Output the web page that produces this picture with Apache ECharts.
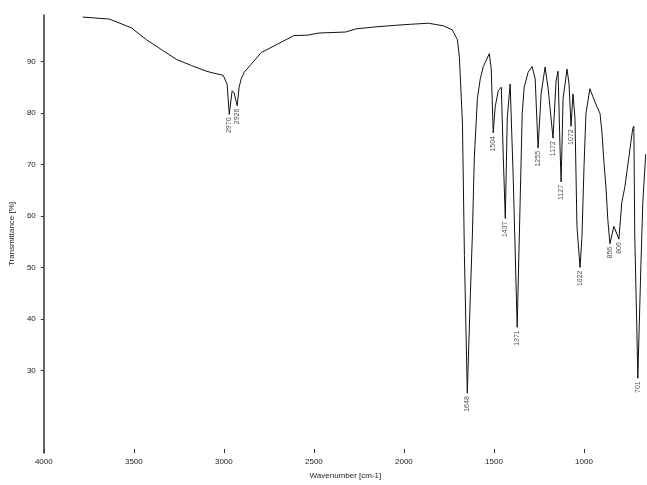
<!DOCTYPE html>
<html>
<head>
<meta charset="utf-8">
<script src="https://cdn.jsdelivr.net/npm/echarts@6/dist/echarts.min.js"></script>
<style>
  html, body { margin: 0; padding: 0; background: #fff; }
  #chart { width: 647px; height: 485px; }
</style>
</head>
<body>
<div id="chart"></div>
<script>
// wavenumber [cm-1] and transmittance [%]
const wavenumber = [3784, 3635, 3513, 3430, 3347, 3264, 3181, 3098, 3054, 3004, 2982, 2970, 2954, 2943, 2926, 2915, 2904, 2887, 2849, 2793, 2710, 2611, 2533, 2472, 2323, 2268, 2157, 2046, 1963, 1864, 1780, 1731, 1703, 1692, 1675, 1664, 1648, 1631, 1620, 1609, 1592, 1576, 1559, 1526, 1515, 1504, 1493, 1476, 1459, 1448, 1437, 1426, 1410, 1393, 1371, 1354, 1343, 1332, 1310, 1288, 1271, 1255, 1238, 1216, 1199, 1172, 1155, 1144, 1133, 1127, 1116, 1094, 1083, 1072, 1061, 1050, 1039, 1022, 1011, 1000, 989, 967, 950, 928, 911, 900, 889, 878, 867, 856, 834, 806, 790, 773, 762, 751, 740, 729, 723, 718, 707, 701, 684, 673, 657];
const transmittance = [98.6, 98.2, 96.5, 94.2, 92.3, 90.4, 89.2, 88.1, 87.7, 87.3, 85.6, 79.7, 84.3, 83.9, 81.4, 85.0, 86.6, 87.9, 89.4, 91.7, 93.2, 95.0, 95.1, 95.5, 95.7, 96.3, 96.7, 97.0, 97.2, 97.4, 96.9, 96.1, 94.2, 90.8, 78.0, 52.3, 25.6, 44.7, 56.1, 71.3, 82.8, 86.6, 89.0, 91.5, 88.5, 76.1, 81.2, 84.3, 85.0, 71.3, 59.5, 79.0, 85.6, 67.5, 38.4, 63.7, 79.9, 85.0, 87.9, 89.0, 86.6, 73.2, 83.7, 88.9, 84.7, 75.1, 86.2, 88.1, 73.2, 66.6, 82.8, 88.5, 85.6, 77.4, 83.7, 79.0, 58.0, 50.0, 56.1, 69.4, 79.9, 84.7, 83.1, 81.2, 79.9, 76.1, 70.4, 65.6, 59.0, 54.6, 58.0, 55.5, 62.6, 65.6, 68.5, 71.3, 74.2, 77.0, 77.4, 56.1, 39.0, 28.5, 50.4, 62.8, 72.0];

// labelled peaks
const peakWn = [2970, 2926, 1648, 1504, 1437, 1371, 1255, 1172, 1127, 1072, 1022, 856, 806, 701];
const peakT = [79.7, 81.4, 25.6, 76.1, 59.5, 38.4, 73.2, 75.1, 66.6, 77.4, 50.0, 54.6, 55.5, 28.5];

const xTicks = [4000, 3500, 3000, 2500, 2000, 1500, 1000];
const yTicks = [30, 40, 50, 60, 70, 80, 90];

const font = 'Liberation Sans';
const txt = '#222';

const chart = echarts.init(document.getElementById('chart'));
chart.setOption({
  animation: false,
  grid: { left: 42, right: 0, top: 15, bottom: 25 },
  xAxis: {
    type: 'value',
    inverse: true,
    min: 650,
    max: 4000,
    name: 'Wavenumber [cm-1]',
    nameLocation: 'middle',
    nameGap: 19,
    nameTextStyle: { fontSize: 8, color: txt, fontFamily: font },
    axisLine: { show: false },
    axisTick: { show: true, inside: true, length: 4, customValues: xTicks, lineStyle: { color: '#333' } },
    axisLabel: { customValues: xTicks, fontSize: 8, color: txt, fontFamily: font, margin: 5, formatter: v => String(v) },
    splitLine: { show: false }
  },
  yAxis: {
    type: 'value',
    min: 14,
    max: 99,
    name: 'Transmittance [%]',
    nameLocation: 'middle',
    nameGap: 25,
    nameTextStyle: { fontSize: 8, color: txt, fontFamily: font },
    axisLine: { show: true, lineStyle: { color: '#333', width: 1.5 } },
    axisTick: { show: true, length: 3, customValues: yTicks, lineStyle: { color: '#333' } },
    axisLabel: { customValues: yTicks, fontSize: 8, color: txt, fontFamily: font, margin: 8 },
    splitLine: { show: false }
  },
  series: [
    {
      type: 'line',
      data: wavenumber.map((w, i) => [w, transmittance[i]]),
      showSymbol: false,
      lineStyle: { color: '#111', width: 1 }
    },
    {
      type: 'scatter',
      data: peakWn.map((w, i) => [w, peakT[i]]),
      symbolSize: 0,
      label: {
        show: true,
        position: 'bottom',
        distance: 3,
        rotate: 90,
        align: 'right',
        verticalAlign: 'middle',
        fontSize: 7,
        color: txt,
        fontFamily: font,
        formatter: p => String(p.value[0])
      }
    }
  ]
});
</script>
</body>
</html>
